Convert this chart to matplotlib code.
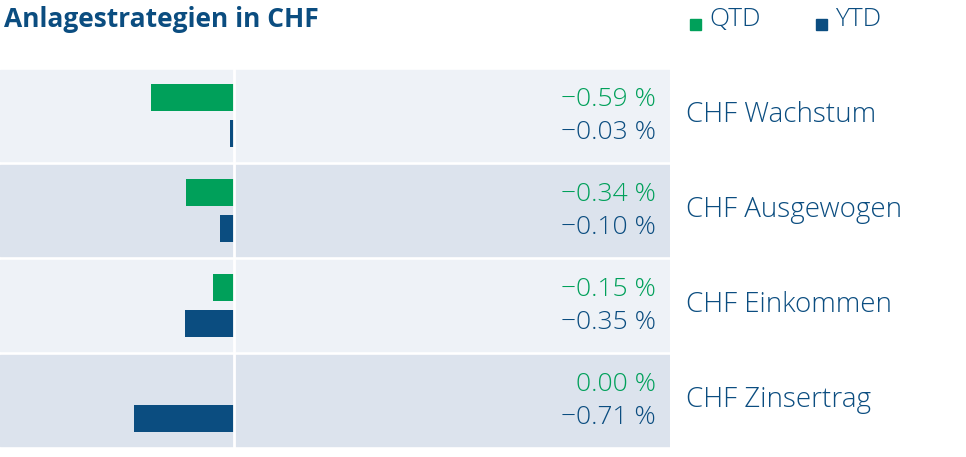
import matplotlib.pyplot as plt
from matplotlib.patches import Rectangle

strategies = ['CHF Wachstum', 'CHF Ausgewogen', 'CHF Einkommen', 'CHF Zinsertrag']
qtd = [-0.59, -0.34, -0.15, 0.00]
ytd = [-0.03, -0.10, -0.35, -0.71]

GREEN = '#00a05a'
NAVY = '#0b4d80'
BG = ['#eef2f7', '#dce3ed']

plt.rcParams['font.family'] = ['Open Sans', 'DejaVu Sans']

fig = plt.figure(figsize=(9.66, 4.57), dpi=100)
ax = fig.add_axes([0, 9 / 457, 670 / 966, 380 / 457])
ax.set_xlim(-1.66, 3.09)
ax.set_ylim(3.5, -0.5)
ax.axis('off')

for i, name in enumerate(strategies):
    ax.axhspan(i - 0.475, i + 0.475, color=BG[i % 2], zorder=0)
    ax.barh(i - 0.19, qtd[i], height=0.28, color=GREEN, zorder=2)
    ax.barh(i + 0.19, ytd[i], height=0.28, color=NAVY, zorder=2)
    ax.text(2.99, i - 0.17, f'{qtd[i]:.2f} %'.replace('-', '\u2212'), color=GREEN,
            fontsize=19, fontweight='light', ha='right', va='center')
    ax.text(2.99, i + 0.18, f'{ytd[i]:.2f} %'.replace('-', '\u2212'), color=NAVY,
            fontsize=19, fontweight='light', ha='right', va='center')
    ax.text(3.2, i, name, color=NAVY, fontsize=20, fontweight='light',
            ha='left', va='center', clip_on=False)

ax.axvline(0, color='white', lw=2, zorder=3)

fig.text(0.004, 0.958, 'Anlagestrategien in CHF', color=NAVY, fontsize=19,
         fontweight='bold', ha='left', va='center')
fig.patches.append(Rectangle((690 / 966, 0.935), 11 / 966, 11 / 457, color=GREEN,
                             transform=fig.transFigure, figure=fig))
fig.text(709 / 966, 0.958, 'QTD', color=NAVY, fontsize=19, fontweight='light',
         ha='left', va='center')
fig.patches.append(Rectangle((816 / 966, 0.935), 11 / 966, 11 / 457, color=NAVY,
                             transform=fig.transFigure, figure=fig))
fig.text(835 / 966, 0.958, 'YTD', color=NAVY, fontsize=19, fontweight='light',
         ha='left', va='center')

fig.savefig('out.png', dpi=100)
